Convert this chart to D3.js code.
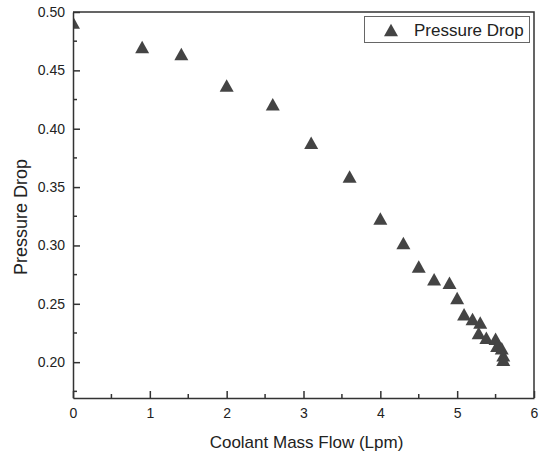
<!DOCTYPE html>
<html>
<head>
<meta charset="utf-8">
<script src="https://cdn.jsdelivr.net/npm/d3@7.9.0/dist/d3.min.js"></script>
<style>
  body { margin: 0; background: #fff; }
  svg { display: block; font-family: "Liberation Sans", Arial, sans-serif; }
</style>
</head>
<body>
<svg id="chart" width="542" height="456"></svg>
<script>
// Coolant mass flow (Lpm) and pressure drop
const flow = [0, 0.9, 1.41, 2.0, 2.6, 3.1, 3.6, 4.0, 4.3, 4.5, 4.7, 4.9, 5.0, 5.09, 5.2, 5.3,
  5.28, 5.38, 5.5, 5.52, 5.58, 5.6, 5.6];
const pressureDrop = [0.491, 0.470, 0.464, 0.437, 0.421, 0.388, 0.359, 0.323, 0.302, 0.282,
  0.271, 0.268, 0.255, 0.241, 0.237, 0.234, 0.225, 0.221, 0.220, 0.214, 0.212, 0.206, 0.202];
const xTicks = [0, 1, 2, 3, 4, 5, 6];
const yTicks = [0.20, 0.25, 0.30, 0.35, 0.40, 0.45, 0.50];
const seriesName = "Pressure Drop";

const points = flow.map((f, i) => ({ x: f, y: pressureDrop[i] }));

const svg = d3.select("#chart");
const plotLeft = 73, plotRight = 534, plotTop = 12, plotBottom = 398;
const axisColor = "#333";
const markColor = "#444";

const x = d3.scaleLinear().domain([0, 6]).range([plotLeft, plotRight]);
const y = d3.scaleLinear().domain([0.1693, 0.50]).range([plotBottom, plotTop]);

// triangle centred on its bounding box
function tri(w, h) {
  return `M0,${-h / 2}L${w / 2},${h / 2}L${-w / 2},${h / 2}Z`;
}

svg.append("defs").append("clipPath").attr("id", "plot-clip")
  .append("rect").attr("x", plotLeft).attr("y", plotTop)
  .attr("width", plotRight - plotLeft).attr("height", plotBottom - plotTop);

// points
svg.append("g").attr("clip-path", "url(#plot-clip)")
  .selectAll("path").data(points).join("path")
  .attr("d", tri(14, 12.5))
  .attr("transform", d => `translate(${x(d.x)},${y(d.y)})`)
  .attr("fill", markColor);

// x axis (ticks inward)
const xAxis = svg.append("g").attr("transform", `translate(0,${plotBottom})`)
  .call(d3.axisBottom(x).tickValues(xTicks).tickFormat(d3.format("d"))
    .tickSizeInner(-7).tickSizeOuter(0).tickPadding(10));
xAxis.selectAll(".tick text").attr("font-size", 14).attr("fill", "#222");
xAxis.append("g").selectAll("line").data(d3.range(0.5, 6, 1)).join("line")
  .attr("x1", d => x(d)).attr("x2", d => x(d)).attr("y1", 0).attr("y2", -4);

// y axis (ticks inward)
const yAxis = svg.append("g").attr("transform", `translate(${plotLeft},0)`)
  .call(d3.axisLeft(y).tickValues(yTicks).tickFormat(d3.format(".2f"))
    .tickSizeInner(-7).tickSizeOuter(0).tickPadding(8));
yAxis.selectAll(".tick text").attr("font-size", 14).attr("fill", "#222");
yAxis.append("g").selectAll("line").data([0.175, 0.225, 0.275, 0.325, 0.375, 0.425, 0.475]).join("line")
  .attr("y1", d => y(d)).attr("y2", d => y(d)).attr("x1", 0).attr("x2", 4);

[xAxis, yAxis].forEach(a => {
  a.selectAll("line").attr("stroke", axisColor).attr("stroke-width", 1.5);
  a.select(".domain").attr("stroke", axisColor).attr("stroke-width", 1.5);
});

// frame top and right
svg.append("path")
  .attr("d", `M${plotLeft},${plotTop}H${plotRight}V${plotBottom}`)
  .attr("fill", "none").attr("stroke", axisColor).attr("stroke-width", 1.5);

// axis titles
svg.append("text").attr("x", (plotLeft + plotRight) / 2 + 3).attr("y", 448)
  .attr("text-anchor", "middle").attr("font-size", 17).attr("fill", "#222")
  .text("Coolant Mass Flow (Lpm)");
svg.append("text").attr("transform", "translate(27,217) rotate(-90)")
  .attr("text-anchor", "middle").attr("font-size", 18).attr("fill", "#222")
  .text("Pressure Drop");

// legend
const lg = svg.append("g");
lg.append("rect").attr("x", 364.5).attr("y", 16.5).attr("width", 165).attr("height", 26)
  .attr("fill", "#fff").attr("stroke", "#666").attr("stroke-width", 1);
lg.append("path").attr("d", tri(14, 12.5)).attr("transform", "translate(391,30)").attr("fill", markColor);
lg.append("text").attr("x", 414).attr("y", 36).attr("font-size", 17).attr("fill", "#222")
  .text(seriesName);
</script>
</body>
</html>
